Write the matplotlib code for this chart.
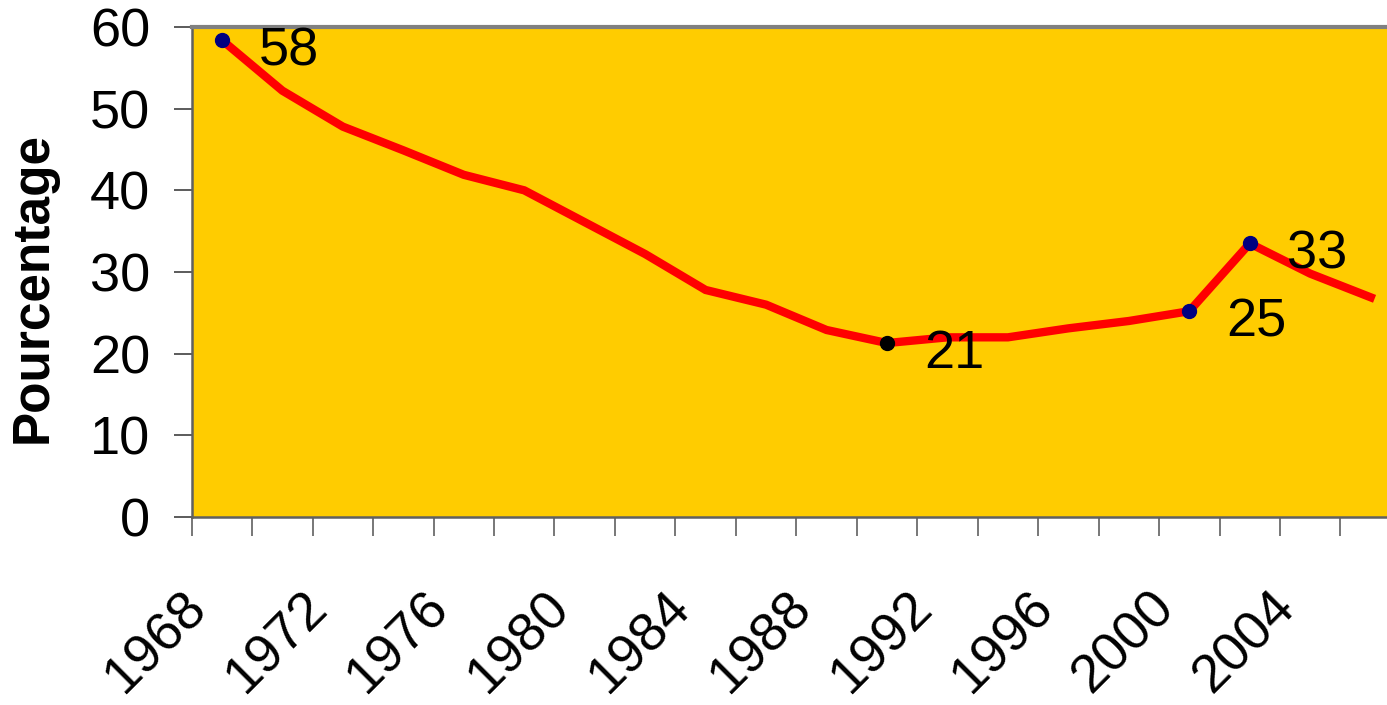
import matplotlib
matplotlib.use('Agg')
import matplotlib.pyplot as plt
import numpy as np

plt.rcParams['font.family'] = ['Liberation Sans', 'DejaVu Sans']

# one category every two years, labels on every other category
years = [1968, 1970, 1972, 1974, 1976, 1978, 1980, 1982, 1984, 1986,
         1988, 1990, 1992, 1994, 1996, 1998, 2000, 2002, 2004, 2006]
values = [58.4, 52.2, 47.8, 44.9, 41.9, 40.0, 36.1, 32.2, 27.8, 26.0,
          22.9, 21.3, 22.0, 22.0, 23.1, 24.0, 25.2, 33.5, 29.8, 26.9]
tick_years = [1968, 1972, 1976, 1980, 1984, 1988, 1992, 1996, 2000, 2004]

# highlighted points: year -> (label, marker colour)
highlights = {1968: ('58', '#000080'), 1990: ('21', 'black'),
              2000: ('25', '#000080'), 2002: ('33', '#000080')}

FS = 39  # big Excel-style text

W, H = 1387, 705
fig = plt.figure(figsize=(W / 100, H / 100), dpi=100)
left, right, top, bottom = 191.7, 1400.9, 27, 517
ax = fig.add_axes([left / W, 1 - bottom / H, (right - left) / W, (bottom - top) / H])
ax.set_facecolor('#FFCC00')

x = np.arange(len(years))
ax.plot(x, values, color='#FF0000', lw=6, solid_joinstyle='miter', zorder=2)

for yr, (lab, col) in highlights.items():
    i = years.index(yr)
    ax.plot(x[i], values[i], 'o', color=col, ms=10, zorder=3)
    ax.annotate(lab, (x[i], values[i]), xytext=(37, -25), textcoords='offset pixels',
                ha='left', va='baseline', fontsize=FS, color='black', zorder=4)

ax.set_xlim(-0.5, len(years) - 0.5)
ax.set_ylim(0, 60)

# y axis
ax.set_yticks(np.arange(0, 61, 10))
ax.tick_params(axis='y', direction='out', length=13, width=1.2, color='#404040',
               labelsize=FS, pad=17)

# x axis: ticks between categories, year labels drawn by hand under the centres
ax.set_xticks(np.arange(-0.5, len(years), 1), minor=True)
ax.set_xticks([])
ax.tick_params(axis='x', which='minor', direction='out', length=14, width=1.2,
               color='#606060')
for yr in tick_years:
    ax.annotate(str(yr), (years.index(yr), 0), xycoords=('data', 'axes fraction'),
                xytext=(-13, -92), textcoords='offset pixels', rotation=45,
                rotation_mode='anchor', ha='right', va='baseline', fontsize=FS,
                annotation_clip=False)

for side in ['left', 'bottom']:
    ax.spines[side].set_color('#606060')
    ax.spines[side].set_linewidth(1.8)
ax.spines['top'].set_color('#808080')
ax.spines['top'].set_linewidth(3)
ax.spines['right'].set_visible(False)

fig.text(33 / W, 1 - 288 / H, 'Pourcentage', rotation=90, ha='center', va='center',
         fontsize=37, fontweight='bold')

fig.savefig('out.png', dpi=100)
